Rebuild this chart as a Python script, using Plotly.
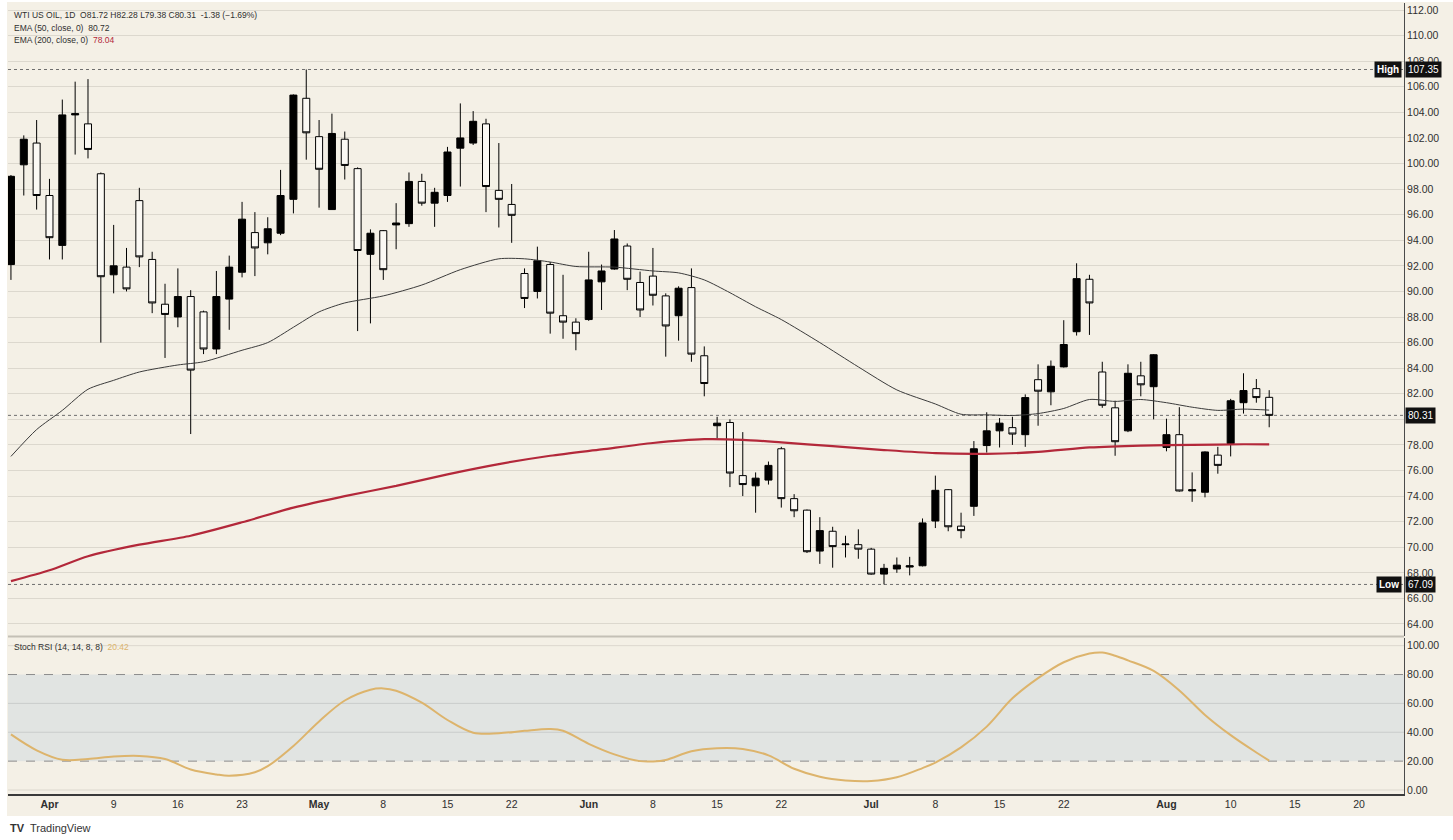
import plotly.graph_objects as go

# ---------------- data ----------------
OPEN = [92.1, 99.9, 101.6, 97.5, 93.6, 103.8, 103.1, 99.2, 91.3, 91.9,
        97.1, 92.5, 89.0, 88.0, 89.6, 88.4, 85.5, 89.4, 91.5, 94.6,
        93.8, 94.55, 97.2, 105.1, 102.1, 96.4, 101.9, 99.6, 92.9, 94.75,
        95.2, 95.3, 98.6, 96.9, 97.5, 101.2, 101.6, 103.1, 97.9, 96.8,
        91.4, 90.0, 92.1, 88.1, 87.6, 87.8, 90.75, 91.75, 93.55, 90.7,
        91.2, 89.65, 88.1, 90.3, 84.97, 79.5, 79.75, 75.6, 74.8, 75.25,
        77.7, 73.8, 72.9, 69.7, 71.25, 70.2, 70.2, 69.85, 67.9, 68.3,
        68.45, 68.55, 72.05, 74.5, 71.65, 73.2, 77.95, 79.1, 79.35, 78.8,
        83.1, 82.15, 84.1, 86.85, 90.95, 83.7, 80.9, 79.1, 83.4, 82.55,
        77.8, 78.8, 74.4, 74.3, 77.2, 78.1, 81.3, 82.4, 81.72]
HIGH = [99.1, 102.2, 103.4, 98.8, 105.0, 106.4, 106.6, 99.3, 95.2, 93.4,
        98.1, 93.1, 90.6, 91.8, 90.1, 88.5, 91.6, 92.8, 97.0, 96.2,
        95.8, 99.5, 105.4, 107.35, 103.4, 103.9, 102.5, 99.7, 94.85, 94.8,
        96.9, 99.3, 99.2, 98.1, 101.3, 104.7, 104.1, 103.5, 101.6, 98.4,
        91.8, 93.5, 92.3, 91.3, 87.9, 93.1, 92.1, 94.8, 93.75, 91.55,
        93.4, 89.85, 90.4, 91.8, 85.7, 80.2, 80.0, 79.0, 75.85, 76.7,
        77.85, 74.15, 72.95, 72.35, 71.6, 70.9, 71.4, 69.95, 68.7, 69.2,
        69.25, 72.25, 75.6, 74.55, 72.7, 78.3, 80.55, 80.1, 80.2, 81.95,
        84.3, 84.6, 87.75, 92.2, 91.3, 84.5, 81.45, 84.3, 84.5, 85.1,
        80.05, 80.95, 75.85, 77.5, 77.85, 81.6, 83.6, 83.15, 82.28]
LOW = [90.9, 97.5, 96.4, 92.5, 92.5, 100.7, 100.4, 86.0, 89.85, 90.0,
       91.9, 88.3, 84.8, 87.2, 78.85, 85.1, 85.1, 87.0, 91.1, 91.2,
       92.9, 94.4, 96.1, 100.3, 96.55, 96.4, 98.75, 86.9, 87.5, 90.9,
       93.3, 95.05, 96.7, 95.05, 97.0, 98.2, 101.45, 96.2, 95.0, 93.8,
       88.7, 89.45, 86.7, 86.3, 85.4, 87.7, 88.55, 91.7, 90.1, 88.0,
       88.9, 84.9, 86.15, 84.5, 81.8, 78.5, 74.7, 74.0, 72.7, 74.9,
       73.1, 72.35, 69.55, 68.7, 68.4, 69.2, 69.1, 67.85, 67.09, 68.0,
       67.8, 68.5, 71.5, 71.25, 70.7, 72.45, 77.4, 77.8, 78.0, 77.85,
       79.5, 81.1, 84.05, 86.55, 86.6, 80.9, 77.15, 79.0, 81.8, 80.0,
       77.5, 74.35, 73.55, 73.9, 75.75, 77.1, 80.45, 81.3, 79.38]
CLOSE = [99.0, 101.9, 97.5, 94.2, 103.8, 103.9, 101.1, 91.15, 92.0, 90.2,
         92.7, 89.1, 88.2, 89.6, 83.85, 85.5, 89.6, 91.9, 95.65, 93.4,
         94.9, 97.5, 105.35, 102.4, 99.55, 102.35, 99.85, 93.2, 94.55, 91.7,
         95.35, 98.6, 96.9, 97.75, 100.9, 102.0, 103.3, 98.2, 97.2, 95.95,
         89.45, 92.4, 88.3, 87.6, 86.7, 90.9, 91.6, 94.1, 90.95, 88.55,
         89.7, 87.3, 90.25, 85.1, 82.8, 79.7, 75.8, 74.9, 75.4, 76.4,
         73.8, 72.85, 69.65, 71.3, 70.05, 70.25, 69.85, 67.9, 68.35, 68.6,
         68.55, 71.9, 74.45, 71.6, 71.3, 77.7, 79.1, 79.7, 78.85, 81.7,
         82.2, 84.15, 85.85, 91.0, 89.1, 81.1, 78.25, 83.6, 82.7, 85.05,
         78.8, 74.4, 74.5, 77.45, 76.4, 81.45, 82.25, 81.7, 80.31]
CHANGE = -1.38
CHANGE_PCT = -1.69

EMA50_BARS = [0, 2, 4, 6, 8, 10, 13, 15, 18, 20, 22, 24, 26, 29, 32, 35, 38, 40,
              42, 44, 47, 50, 52, 54, 56, 58, 60, 63, 66, 69, 72, 74, 76, 78,
              80, 82, 84, 86, 88, 90, 92, 94, 96, 98]
EMA50_VALUES = [77.1, 79.2, 80.7, 82.35, 83.05, 83.7, 84.25, 84.5, 85.4, 86.0,
                87.2, 88.4, 89.1, 89.65, 90.5, 91.7, 92.55, 92.55, 92.3, 91.95,
                91.9, 91.6, 91.45, 90.9, 89.9, 88.8, 87.8, 86.0, 84.1, 82.3,
                81.2, 80.4, 80.35, 80.3, 80.45, 80.85, 81.55, 81.4, 81.55, 81.3,
                80.95, 80.7, 80.8, 80.72]

EMA200_BARS = [0, 3, 6, 10, 14, 18, 22, 26, 30, 34, 38, 42, 46, 50, 54, 57,
               60, 64, 68, 72, 76, 80, 84, 88, 92, 96, 98]
EMA200_VALUES = [67.35, 68.2, 69.3, 70.2, 70.9, 71.95, 73.1, 74.0, 74.8, 75.7,
                 76.5, 77.15, 77.65, 78.15, 78.45, 78.4, 78.2, 77.9, 77.6, 77.35,
                 77.3, 77.45, 77.8, 77.95, 78.0, 78.05, 78.04]

STOCH_BARS = [0, 2, 4, 6, 8, 10, 12, 14, 16, 17, 19, 20, 22, 24, 26, 28, 29, 30,
              32, 34, 36, 38, 40, 42, 43, 45, 47, 49, 50, 51, 53, 55, 57, 59,
              61, 63, 65, 67, 69, 71, 72, 74, 76, 78, 80, 82, 84, 85, 86, 87,
              89, 91, 93, 95, 97, 98]
STOCH_VALUES = [38.5, 27.5, 21.0, 21.5, 23.2, 23.6, 21.5, 14.2, 10.8, 9.9,
                12.3, 16.5, 30.5, 47.5, 62.0, 69.5, 70.4, 68.8, 60.5, 48.5,
                39.7, 39.3, 41.0, 42.2, 41.0, 32.0, 24.7, 20.0, 19.8, 20.8,
                26.8, 28.9, 28.4, 24.0, 14.7, 9.2, 6.6, 6.2, 8.8, 15.2,
                19.0, 29.5, 43.9, 63.5, 77.5, 88.5, 94.5, 95.2, 93.0, 89.8,
                82.5, 69.0, 52.0, 38.0, 26.0, 20.42]

TICK_BARS = [3, 8, 13, 18, 24, 29, 34, 39, 45, 50, 55, 60, 67, 72, 77, 82, 90, 95, 100, 105]
TICK_LABELS = ["Apr", "9", "16", "23", "May", "8", "15", "22", "Jun", "8", "15", "22",
               "Jul", "8", "15", "22", "Aug", "10", "15", "20"]
MONTHS = ["Apr", "May", "Jun", "Jul", "Aug"]

PRICE_TICKS = list(range(64, 113, 2))
RSI_TICKS = [0, 20, 40, 60, 80, 100]
RSI_UPPER = 80
RSI_LOWER = 20

SYMBOL = "WTI US OIL, 1D"
EMA50_LABEL = "EMA (50, close, 0)"
EMA200_LABEL = "EMA (200, close, 0)"
STOCH_LABEL = "Stoch RSI (14, 14, 8, 8)"

# ---------------- derived ----------------
BARS = list(range(len(CLOSE)))
HI = max(HIGH)
LO = min(LOW)
LAST = CLOSE[-1]
# the last-price box hides the tick label it sits on
PRICE_TICK_TEXT = ["" if abs(v - LAST) < 0.6 else f"{v:.2f}" for v in PRICE_TICKS]

# ---------------- style ----------------
CREAM = "#F4F0E6"
GRID = "#DCD8CE"
TXT = "#2f2f2f"
RED = "#B3283A"
GOLD = "#DDB46C"
FONT = "Liberation Sans"

W, H = 1453, 840
ML, MR, MT, MB = 8, 49, 3, 46
PH = H - MT - MB

def py(px):
    return (H - MB - px) / PH

def pxx(px):
    return (px - ML) / (W - ML - MR)

fig = go.Figure()

fig.add_trace(go.Candlestick(
    x=BARS, open=OPEN, high=HIGH, low=LOW, close=CLOSE,
    increasing=dict(line=dict(color="#000000", width=1), fillcolor="#000000"),
    decreasing=dict(line=dict(color="#000000", width=1), fillcolor="#FBF9F4"),
    whiskerwidth=0, hoverinfo="skip", showlegend=False,
    xaxis="x", yaxis="y"))

fig.add_trace(go.Scatter(x=EMA50_BARS, y=EMA50_VALUES, mode="lines",
                         line=dict(color="#3b3b3b", width=1, shape="spline", smoothing=0.7),
                         hoverinfo="skip", showlegend=False, xaxis="x", yaxis="y"))
fig.add_trace(go.Scatter(x=EMA200_BARS, y=EMA200_VALUES, mode="lines",
                         line=dict(color=RED, width=2.2, shape="spline", smoothing=0.7),
                         hoverinfo="skip", showlegend=False, xaxis="x", yaxis="y"))
fig.add_trace(go.Scatter(x=STOCH_BARS, y=STOCH_VALUES, mode="lines",
                         line=dict(color=GOLD, width=2, shape="spline", smoothing=1.0),
                         hoverinfo="skip", showlegend=False, xaxis="x2", yaxis="y2"))

shapes = []
shapes.append(dict(type="rect", xref="paper", yref="paper", x0=pxx(7), x1=pxx(W + 5),
                   y0=py(816), y1=py(2), fillcolor=CREAM, line=dict(width=0), layer="below"))
shapes.append(dict(type="rect", xref="paper", yref="y2", x0=0, x1=1, y0=RSI_LOWER, y1=RSI_UPPER,
                   fillcolor="#E1E4E2", line=dict(width=0), layer="below"))
for v in RSI_TICKS:
    if v in (RSI_LOWER, RSI_UPPER):
        shapes.append(dict(type="line", xref="paper", yref="y2", x0=0, x1=1, y0=v, y1=v,
                           line=dict(color="#8d8d8d", width=1, dash="dash"), layer="below"))
    else:
        shapes.append(dict(type="line", xref="paper", yref="y2", x0=0, x1=1, y0=v, y1=v,
                           line=dict(color=GRID if v in (0, 100) else "#C9CCCB", width=1), layer="below"))
for v in (HI, LO, LAST):
    shapes.append(dict(type="line", xref="paper", yref="y", x0=0, x1=1, y0=v, y1=v,
                       line=dict(color="#6e6e6e", width=1, dash="dot"), layer="below"))
shapes.append(dict(type="line", xref="paper", yref="paper", x0=0, x1=1, y0=py(636.5), y1=py(636.5),
                   line=dict(color="#C4C0B6", width=2)))

annotations = []
hdr_font = dict(family=FONT, size=8.5, color=TXT)
chg_txt = f"{CHANGE:.2f} ({CHANGE_PCT:.2f}%)".replace("(-", "(\u2212")
annotations.append(dict(xref="paper", yref="paper", x=pxx(12), y=py(15), xanchor="left", yanchor="middle",
                        showarrow=False, font=hdr_font,
                        text=f"{SYMBOL}  O{OPEN[-1]:.2f} H{HIGH[-1]:.2f} L{LOW[-1]:.2f} C{LAST:.2f}  {chg_txt}"))
annotations.append(dict(xref="paper", yref="paper", x=pxx(12), y=py(27.5), xanchor="left", yanchor="middle",
                        showarrow=False, font=hdr_font,
                        text=f"{EMA50_LABEL}  {EMA50_VALUES[-1]:.2f}"))
annotations.append(dict(xref="paper", yref="paper", x=pxx(12), y=py(40), xanchor="left", yanchor="middle",
                        showarrow=False, font=hdr_font,
                        text=f"{EMA200_LABEL}  <span style='color:{RED}'>{EMA200_VALUES[-1]:.2f}</span>"))
annotations.append(dict(xref="paper", yref="paper", x=pxx(12), y=py(647), xanchor="left", yanchor="middle",
                        showarrow=False, font=hdr_font,
                        text=f"{STOCH_LABEL}  <span style='color:{GOLD}'>{STOCH_VALUES[-1]:.2f}</span>"))

box_font = dict(family=FONT, size=10, color="#FFFFFF")
for label, v in (("High", HI), ("Low", LO)):
    annotations.append(dict(xref="paper", yref="y", x=1, y=v, xanchor="right", yanchor="middle",
                            xshift=-2, showarrow=False, text=f"<b>{label}</b>", font=box_font,
                            bgcolor="#111111", borderpad=2))
for v in (HI, LAST, LO):
    annotations.append(dict(xref="paper", yref="y", x=1, y=v, xanchor="left", yanchor="middle",
                            xshift=1, showarrow=False, text=f"{v:.2f}", font=box_font,
                            bgcolor="#111111", borderpad=2))

annotations.append(dict(xref="paper", yref="paper", x=pxx(8), y=py(828), xanchor="left", yanchor="middle",
                        showarrow=False, text="<b>TV</b>  TradingView",
                        font=dict(family=FONT, size=11, color="#333333")))

tick_text = [f"<b>{t}</b>" if t in MONTHS else t for t in TICK_LABELS]
XR = [-0.23, 108.5]
fig.update_layout(
    width=W, height=H,
    margin=dict(l=ML, r=MR, t=MT, b=MB, autoexpand=False),
    paper_bgcolor="#FFFFFF", plot_bgcolor="rgba(0,0,0,0)",
    font=dict(family=FONT, size=10, color=TXT),
    showlegend=False, hovermode=False, boxgap=0.22,
    xaxis=dict(domain=[0, 1], anchor="y", range=XR, showticklabels=False, showgrid=False,
               zeroline=False, rangeslider=dict(visible=False), fixedrange=True),
    xaxis2=dict(domain=[0, 1], anchor="y2", range=XR, matches="x", tickmode="array",
                tickvals=TICK_BARS, ticktext=tick_text, showgrid=False, zeroline=False,
                showline=True, linecolor="#3a3a3a", linewidth=1.5, ticks="",
                tickfont=dict(family=FONT, size=10.5, color=TXT)),
    yaxis=dict(domain=[py(636), 1], anchor="x", side="right", range=[63.06, 112.55],
               tickmode="array", tickvals=PRICE_TICKS, ticktext=PRICE_TICK_TEXT,
               showgrid=True, gridcolor=GRID, gridwidth=1,
               zeroline=False, showline=True, linecolor="#4a4a4a", linewidth=1, ticks="",
               tickfont=dict(family=FONT, size=10.5, color=TXT)),
    yaxis2=dict(domain=[0, py(638)], anchor="x2", side="right", range=[-2.77, 105.3],
                tickmode="array", tickvals=RSI_TICKS, tickformat=".2f", showgrid=False,
                zeroline=False, showline=True, linecolor="#4a4a4a", linewidth=1, ticks="",
                tickfont=dict(family=FONT, size=10.5, color=TXT)),
    shapes=shapes, annotations=annotations,
)

fig.write_html("out.html", config={"displayModeBar": False, "staticPlot": True},
               post_script="document.body.style.margin='0';document.body.style.padding='0';")
